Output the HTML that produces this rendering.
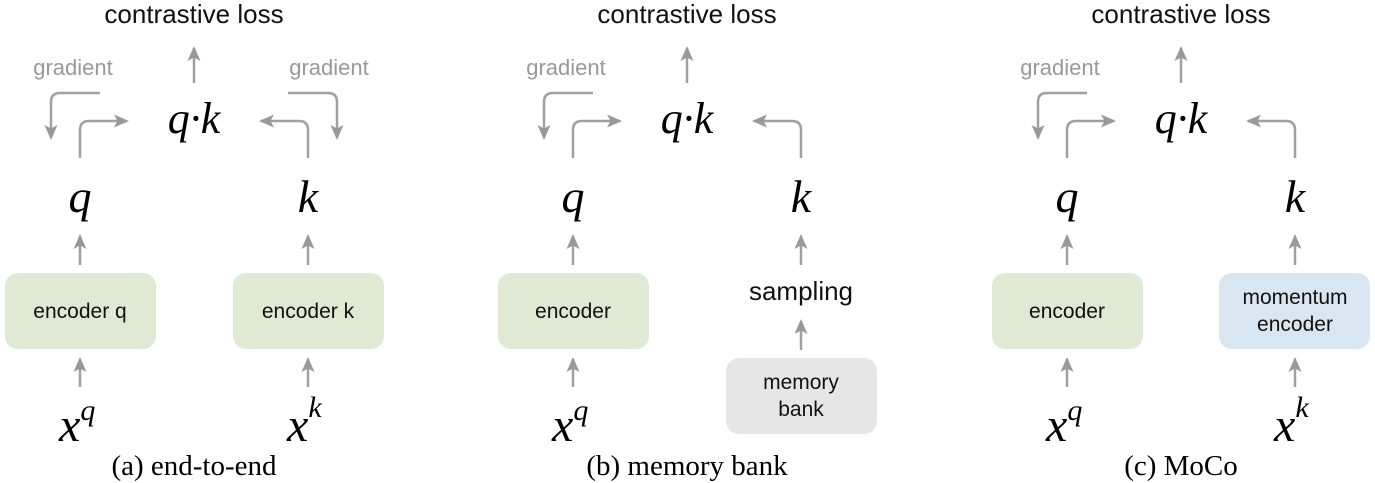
<!DOCTYPE html>
<html><head><meta charset="utf-8"><style>
html,body{margin:0;padding:0;background:#fff;}
svg{display:block;}
.s{font-family:"Liberation Sans",sans-serif;}
.m{font-family:"Liberation Serif",serif;font-style:italic;}
.c{font-family:"Liberation Serif",serif;}
</style></head><body>
<svg width="1375" height="483" viewBox="0 0 1375 483" xmlns="http://www.w3.org/2000/svg">
<defs>
<marker id="ah" markerUnits="userSpaceOnUse" markerWidth="16" markerHeight="16" refX="13" refY="8" orient="auto">
<path d="M0,1.5 L15,8 L0,14.5 L3.5,8 Z" fill="#999"/>
</marker>
</defs>
<g fill="none" stroke="#a0a0a0" stroke-width="2.5">
<line x1="194" y1="83" x2="194" y2="48" marker-end="url(#ah)"/>
<path d="M100,93 H60 Q51,93 51,102 V138" marker-end="url(#ah)"/>
<path d="M80,158 V130 Q80,121 89,121 H127" marker-end="url(#ah)"/>
<path d="M308,158 V130 Q308,121 299,121 H261" marker-end="url(#ah)"/>
<path d="M288,93 H328 Q337,93 337,102 V138" marker-end="url(#ah)"/>
<line x1="80" y1="265" x2="80" y2="236" marker-end="url(#ah)"/>
<line x1="308" y1="265" x2="308" y2="236" marker-end="url(#ah)"/>
<line x1="80" y1="387" x2="80" y2="359" marker-end="url(#ah)"/>
<line x1="308" y1="387" x2="308" y2="359" marker-end="url(#ah)"/>
<line x1="687" y1="83" x2="687" y2="48" marker-end="url(#ah)"/>
<path d="M593,93 H553 Q544,93 544,102 V138" marker-end="url(#ah)"/>
<path d="M573,158 V130 Q573,121 582,121 H620" marker-end="url(#ah)"/>
<path d="M801,158 V130 Q801,121 792,121 H754" marker-end="url(#ah)"/>
<line x1="573" y1="265" x2="573" y2="236" marker-end="url(#ah)"/>
<line x1="801" y1="265" x2="801" y2="236" marker-end="url(#ah)"/>
<line x1="573" y1="387" x2="573" y2="359" marker-end="url(#ah)"/>
<line x1="801" y1="350" x2="801" y2="321" marker-end="url(#ah)"/>
<line x1="1181" y1="83" x2="1181" y2="48" marker-end="url(#ah)"/>
<path d="M1087,93 H1047 Q1038,93 1038,102 V138" marker-end="url(#ah)"/>
<path d="M1067,158 V130 Q1067,121 1076,121 H1114" marker-end="url(#ah)"/>
<path d="M1295,158 V130 Q1295,121 1286,121 H1248" marker-end="url(#ah)"/>
<line x1="1067" y1="265" x2="1067" y2="236" marker-end="url(#ah)"/>
<line x1="1295" y1="265" x2="1295" y2="236" marker-end="url(#ah)"/>
<line x1="1067" y1="387" x2="1067" y2="359" marker-end="url(#ah)"/>
<line x1="1295" y1="387" x2="1295" y2="359" marker-end="url(#ah)"/>
</g>
<rect x="5" y="273" width="151" height="76" rx="13" fill="#dfe9d3"/>
<rect x="233" y="273" width="151" height="76" rx="13" fill="#dfe9d3"/>
<rect x="498" y="273" width="151" height="76" rx="13" fill="#dfe9d3"/>
<rect x="726" y="358" width="151" height="76" rx="13" fill="#e6e6e6"/>
<rect x="992" y="273" width="151" height="76" rx="13" fill="#dfe9d3"/>
<rect x="1219" y="273" width="151" height="76" rx="13" fill="#d7e6f0"/>
<g class="s" font-size="21" fill="#111" text-anchor="middle">
<text x="80" y="318">encoder q</text>
<text x="308" y="318">encoder k</text>
<text x="573" y="318">encoder</text>
<text x="801" y="389">memory</text>
<text x="801" y="416">bank</text>
<text x="1067" y="318">encoder</text>
<text x="1295" y="304">momentum</text>
<text x="1295" y="331">encoder</text>
<text x="801" y="300" font-size="26">sampling</text>
<text x="194" y="23" font-size="26">contrastive loss</text>
<text x="687" y="23" font-size="26">contrastive loss</text>
<text x="1181" y="23" font-size="26">contrastive loss</text>
</g>
<g class="s" font-size="22" fill="#999" text-anchor="middle">
<text x="73" y="75">gradient</text>
<text x="329" y="75">gradient</text>
<text x="566" y="75">gradient</text>
<text x="1060" y="75">gradient</text>
</g>
<g class="m" fill="#000" text-anchor="middle">
<text x="194" y="133" font-size="44">q·k</text>
<text x="687" y="133" font-size="44">q·k</text>
<text x="1181" y="133" font-size="44">q·k</text>
<text x="80" y="212" font-size="46">q</text>
<text x="308" y="212" font-size="46">k</text>
<text x="573" y="212" font-size="46">q</text>
<text x="801" y="212" font-size="46">k</text>
<text x="1067" y="212" font-size="46">q</text>
<text x="1295" y="212" font-size="46">k</text>
</g>
<g class="m" fill="#000" font-size="48">
<text x="59" y="441">x<tspan font-size="30" dy="-21">q</tspan></text>
<text x="287" y="441">x<tspan font-size="30" dy="-24">k</tspan></text>
<text x="552" y="441">x<tspan font-size="30" dy="-21">q</tspan></text>
<text x="1046" y="441">x<tspan font-size="30" dy="-21">q</tspan></text>
<text x="1274" y="441">x<tspan font-size="30" dy="-24">k</tspan></text>
</g>
<g class="c" font-size="29" fill="#000" text-anchor="middle">
<text x="194" y="475">(a) end-to-end</text>
<text x="687" y="475">(b) memory bank</text>
<text x="1181" y="475">(c) MoCo</text>
</g>
</svg>
</body></html>
